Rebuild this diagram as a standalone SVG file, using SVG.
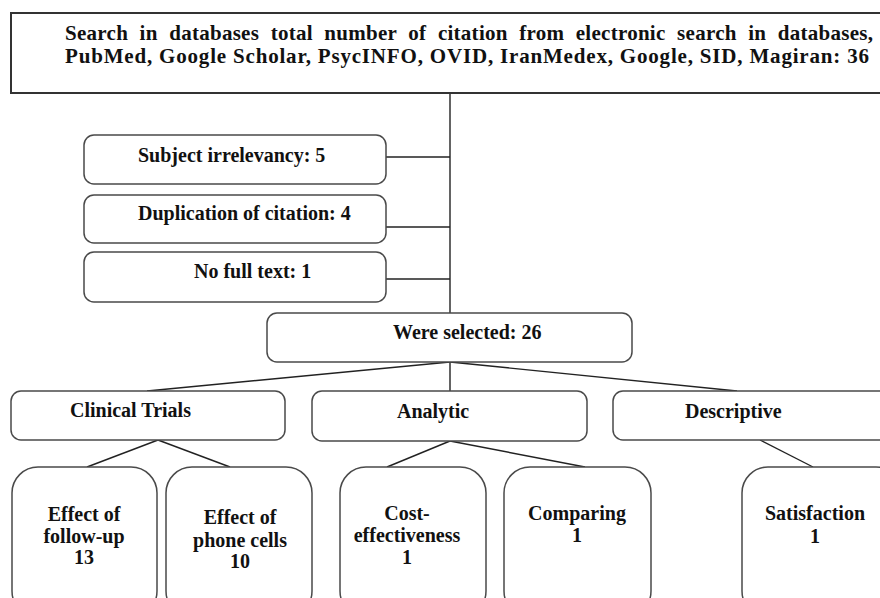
<svg xmlns="http://www.w3.org/2000/svg" width="880" height="598" viewBox="0 0 880 598">
<style>
  .box { fill: #ffffff; stroke: #4a4a4a; stroke-width: 1.5; }
  .top { fill: #ffffff; stroke: #333333; stroke-width: 2; }
  .t { font-family: "Liberation Serif", "Times New Roman", serif; font-weight: bold; font-size: 20px; fill: #111111; }
  .tl { font-size: 21px; }
  .m { text-anchor: middle; }
  .conn line { stroke: #222222; stroke-width: 1.4; }
</style>
<rect x="0" y="0" width="880" height="598" fill="#ffffff"/>

<g id="connectors" class="conn">
  <line x1="450" y1="93" x2="450" y2="313"/>
  <line x1="386" y1="157" x2="450" y2="157"/>
  <line x1="386" y1="227" x2="450" y2="227"/>
  <line x1="386" y1="279" x2="450" y2="279"/>
  <line x1="450" y1="362" x2="450" y2="391"/>
  <line x1="450" y1="362" x2="147" y2="391"/>
  <line x1="450" y1="362" x2="737" y2="391"/>
  <line x1="158" y1="440" x2="87" y2="467"/>
  <line x1="158" y1="440" x2="230" y2="467"/>
  <line x1="450" y1="441" x2="387" y2="467"/>
  <line x1="450" y1="441" x2="585" y2="467"/>
  <line x1="760" y1="440" x2="813" y2="467"/>
</g>

<g id="search">
  <rect class="top" x="11" y="13" width="880" height="80"/>
  <text class="t tl" x="65" y="40" word-spacing="6" textLength="808" lengthAdjust="spacing">Search in databases total number of citation from electronic search in databases,</text>
  <text class="t tl" x="65" y="63" textLength="804" lengthAdjust="spacing">PubMed, Google Scholar, PsycINFO, OVID, IranMedex, Google, SID, Magiran: 36</text>
</g>

<g id="subject">
  <rect class="box" x="84" y="135" width="302" height="49" rx="10"/>
  <text class="t" x="138" y="162">Subject irrelevancy: 5</text>
</g>
<g id="duplication">
  <rect class="box" x="84" y="195" width="302" height="48" rx="10"/>
  <text class="t" x="138" y="220">Duplication of citation: 4</text>
</g>
<g id="nofulltext">
  <rect class="box" x="84" y="252" width="302" height="50" rx="10"/>
  <text class="t" x="194" y="278">No full text: 1</text>
</g>

<g id="selected">
  <rect class="box" x="267" y="313" width="365" height="49" rx="10"/>
  <text class="t" x="393" y="339">Were selected: 26</text>
</g>

<g id="clinical">
  <rect class="box" x="11" y="391" width="274" height="49" rx="10"/>
  <text class="t" x="70" y="417">Clinical Trials</text>
</g>
<g id="analytic">
  <rect class="box" x="312" y="391" width="275" height="50" rx="10"/>
  <text class="t" x="397" y="418">Analytic</text>
</g>
<g id="descriptive">
  <rect class="box" x="613" y="391" width="290" height="49" rx="10"/>
  <text class="t" x="685" y="418">Descriptive</text>
</g>

<g id="followup">
  <rect class="box" x="12" y="467" width="145" height="150" rx="26"/>
  <text class="t m" x="84" y="521">Effect of</text>
  <text class="t m" x="84" y="543">follow-up</text>
  <text class="t m" x="84" y="564">13</text>
</g>
<g id="phonecells">
  <rect class="box" x="166" y="467" width="146" height="150" rx="26"/>
  <text class="t m" x="240" y="524">Effect of</text>
  <text class="t m" x="240" y="547">phone cells</text>
  <text class="t m" x="240" y="568">10</text>
</g>
<g id="cost">
  <rect class="box" x="340" y="467" width="146" height="150" rx="26"/>
  <text class="t m" x="407" y="520">Cost-</text>
  <text class="t m" x="407" y="542">effectiveness</text>
  <text class="t m" x="407" y="564">1</text>
</g>
<g id="comparing">
  <rect class="box" x="504" y="467" width="147" height="150" rx="26"/>
  <text class="t m" x="577" y="520">Comparing</text>
  <text class="t m" x="577" y="542">1</text>
</g>
<g id="satisfaction">
  <rect class="box" x="742" y="467" width="160" height="150" rx="26"/>
  <text class="t m" x="815" y="520">Satisfaction</text>
  <text class="t m" x="815" y="543">1</text>
</g>
</svg>
